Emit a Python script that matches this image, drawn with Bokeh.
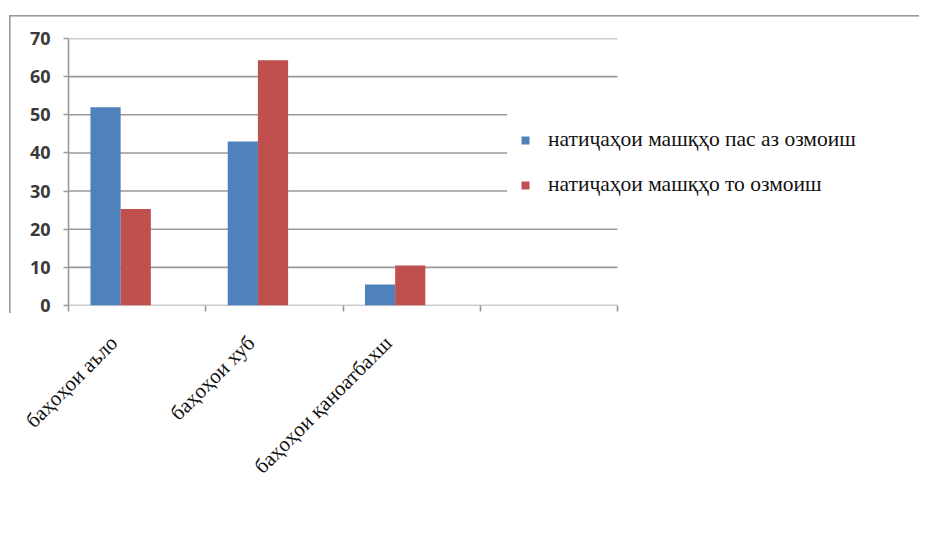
import math
from bokeh.plotting import figure
from bokeh.models import ColumnDataSource, Range1d, FixedTicker, Legend, LegendItem
from bokeh.embed import file_html
from bokeh.resources import INLINE

# ---- data ----
categories = ["баҳоҳои аъло", "баҳоҳои хуб", "баҳоҳои қаноатбахш", ""]
series_names = ["натиҷаҳои машқҳо пас аз озмоиш", "натиҷаҳои машқҳо то озмоиш"]
after_values = [52, 43, 5.5]        # blue
before_values = [25.3, 64.3, 10.5]  # red
y_ticks = [0, 10, 20, 30, 40, 50, 60, 70]

BLUE = "#4f81bd"
RED = "#c0504d"
GRID = "#9a9a9a"
SERIF = "Liberation Serif"

# ---- layout (pixels) ----
W, H = 919, 528
LEFT, TOP, BOTTOM_Y = 68, 38, 305
PLOT_W = 549                      # width of the category area
FRAME_W = W - LEFT                # frame extends to the right edge (room for legend)

n = len(categories)
x_end = n * FRAME_W / PLOT_W

idx = list(range(len(after_values)))
src = ColumnDataSource(dict(
    xb=[i + 0.27 for i in idx],
    xr=[i + 0.49 for i in idx],
    after=after_values,
    before=before_values,
))
grid_src = ColumnDataSource(dict(y=y_ticks, x0=[0] * len(y_ticks), x1=[n] * len(y_ticks)))

p = figure(width=W, height=H, output_backend="svg", toolbar_location=None,
           x_range=Range1d(0, x_end), y_range=Range1d(0, 70),
           min_border_left=LEFT, min_border_right=0, min_border_top=TOP,
           min_border_bottom=H - BOTTOM_Y)
p.outline_line_color = None
p.background_fill_color = "white"
p.border_fill_color = None
p.styles = {
    "background-image": "linear-gradient(#9a9a9a, #9a9a9a), linear-gradient(#9a9a9a, #9a9a9a)",
    "background-size": "3000px 1.6px, 1.6px 298px",
    "background-position": "9px 15px, 9px 15px",
    "background-repeat": "no-repeat",
}

# horizontal grid lines (category area only)
p.segment(x0="x0", x1="x1", y0="y", y1="y", source=grid_src,
          line_color=GRID, line_width=1.6)

rb = p.vbar(x="xb", top="after", width=0.22, bottom=0, source=src,
            fill_color=BLUE, line_color=None)
rr = p.vbar(x="xr", top="before", width=0.22, bottom=0, source=src,
            fill_color=RED, line_color=None)

# y axis
p.yaxis.ticker = FixedTicker(ticks=y_ticks)
p.yaxis.axis_line_color = GRID
p.yaxis.axis_line_width = 1.6
p.yaxis.major_tick_line_color = GRID
p.yaxis.major_tick_line_width = 1.6
p.yaxis.major_tick_out = 5
p.yaxis.major_tick_in = 0
p.yaxis.minor_tick_line_color = None
p.yaxis.major_label_text_font = "Open Sans"
p.yaxis.major_label_text_font_style = "bold"
p.yaxis.major_label_text_font_size = "18px"
p.yaxis.major_label_text_color = "#3a3a3a"
p.yaxis.major_label_standoff = 13

# x axis: ticks between categories, labels near category centres
label_pos = [i + 0.33 for i in range(n)]
bounds = list(range(n + 1))
p.xaxis.ticker = FixedTicker(ticks=label_pos, minor_ticks=bounds)
p.xaxis.major_label_overrides = {c: lab for c, lab in zip(label_pos, categories)}
p.xaxis.major_label_orientation = math.pi / 4
p.xaxis.major_label_text_font = SERIF
p.xaxis.major_label_text_font_size = "21px"
p.xaxis.major_label_text_color = "#111111"
p.xaxis.major_label_standoff = 28
p.xaxis.major_tick_line_color = None
p.xaxis.minor_tick_line_color = GRID
p.xaxis.minor_tick_line_width = 1.6
p.xaxis.minor_tick_out = 6
p.xaxis.minor_tick_in = 0
p.xaxis.axis_line_color = None

p.xgrid.grid_line_color = None
p.ygrid.grid_line_color = None

# legend
legend = Legend(items=[LegendItem(label=series_names[0], renderers=[rb]),
                       LegendItem(label=series_names[1], renderers=[rr])],
                location=(439, 95))
legend.label_text_font = SERIF
legend.label_text_font_size = "21.5px"
legend.label_text_color = "#111111"
legend.glyph_width = 10
legend.glyph_height = 10
legend.label_height = 20
legend.label_standoff = 18
legend.spacing = 20
legend.padding = 13
legend.margin = 0
legend.border_line_alpha = 0
legend.background_fill_color = "white"
legend.background_fill_alpha = 1
p.add_layout(legend, "center")

open("out.html", "w").write(file_html(p, INLINE))
